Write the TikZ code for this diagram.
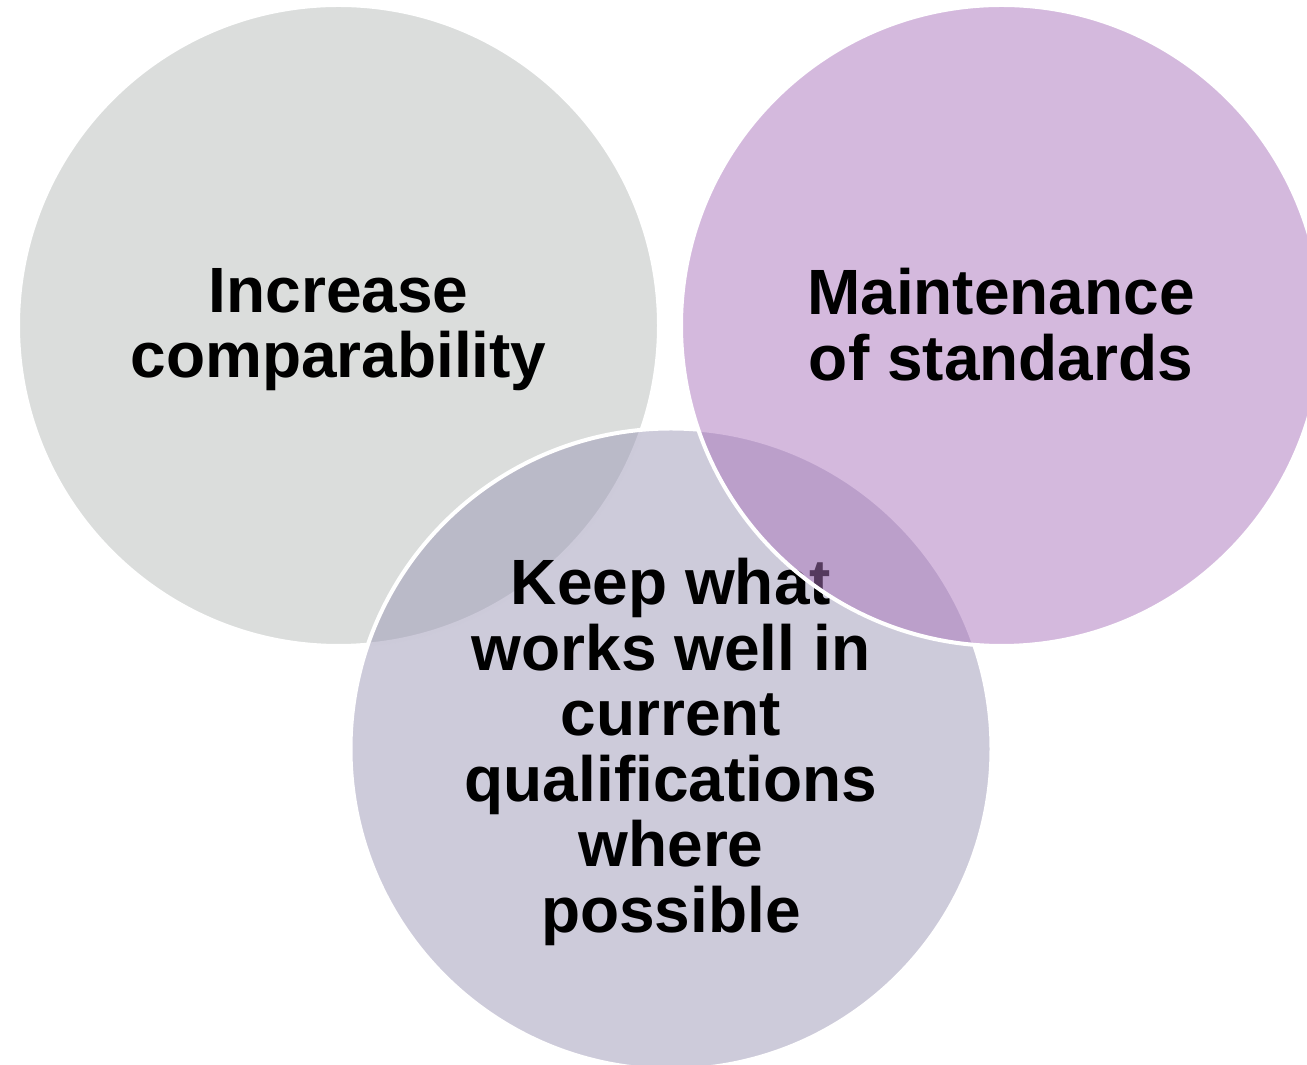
\documentclass[tikz,border=0pt]{standalone}
\usepackage{fontspec}
\setmainfont{Liberation Sans}
\definecolor{comparefill}{RGB}{183,187,185}
\definecolor{keepfill}{RGB}{155,151,181}
\definecolor{standardsfill}{RGB}{170,116,188}
\begin{document}
\begin{tikzpicture}[
    x=1pt, y=1pt,
    venn/.style={circle,draw=white,line width=4pt,fill opacity=0.5,draw opacity=1,minimum size=641pt,inner sep=0pt},
    venntext/.style={anchor=north,align=center,inner sep=0pt,font=\fontsize{64}{65.5}\selectfont\bfseries},
]
\useasboundingbox (0,0) rectangle (1307,1065);
% left circle
\node[venn,fill=comparefill] (compare) at (338.5,739.5) {};
\node[venntext] (comparetext) at (338.5,797) {Increase\\comparability};
% bottom circle
\node[venn,fill=keepfill] (keep) at (671,316) {};
\node[venntext] (keeptext) at (671,507) {Keep what\\works well in\\current\\qualifications\\where\\possible};
% right circle, drawn last so it lies over the text below
\node[venn,fill=standardsfill] (standards) at (1001.5,739.5) {};
\node[venntext] (standardstext) at (1001,797) {Maintenance\\of standards};
\end{tikzpicture}
\end{document}
